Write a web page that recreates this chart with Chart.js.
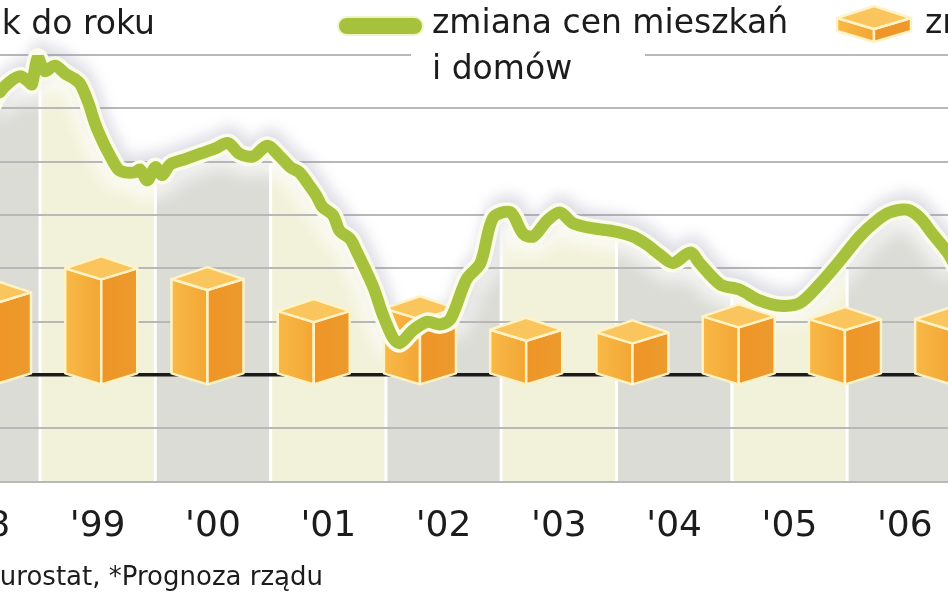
<!DOCTYPE html>
<html>
<head>
<meta charset="utf-8">
<script src="https://cdn.jsdelivr.net/npm/chart.js@4.4.1/dist/chart.umd.min.js"></script>
<style>
  html, body { margin: 0; padding: 0; background: #fff; overflow: hidden; }
  canvas { display: block; }
</style>
</head>
<body>
<canvas id="chart" width="948" height="593"></canvas>
<script>
// zmiana cen mieszkań i domów, r/r (%), odczyt co ok. miesiąc
const lineYears = [1998.57, 1998.65, 1998.74, 1998.83, 1998.90, 1998.93, 1998.98, 1999.04, 1999.13, 1999.22,
  1999.30, 1999.35, 1999.42, 1999.48, 1999.55, 1999.61, 1999.68, 1999.74, 1999.82, 1999.87,
  1999.93, 2000.00, 2000.06, 2000.13, 2000.26, 2000.39, 2000.52, 2000.63, 2000.73, 2000.85,
  2000.97, 2001.08, 2001.17, 2001.25, 2001.32, 2001.40, 2001.45, 2001.54, 2001.60, 2001.69,
  2001.75, 2001.89, 2001.97, 2002.06, 2002.12, 2002.24, 2002.36, 2002.47, 2002.56, 2002.70,
  2002.82, 2002.93, 2003.08, 2003.19, 2003.28, 2003.40, 2003.51, 2003.62, 2003.80, 2003.97,
  2004.14, 2004.26, 2004.38, 2004.49, 2004.64, 2004.72, 2004.90, 2005.07, 2005.24, 2005.42,
  2005.59, 2005.76, 2005.94, 2006.11, 2006.26, 2006.37, 2006.52, 2006.63, 2006.74, 2006.87, 2006.95];
const lineValues = [10.0, 10.6, 11.0, 11.2, 11.0, 10.9, 11.9, 11.4, 11.6, 11.3,
  11.1, 10.9, 10.2, 9.4, 8.7, 8.2, 7.7, 7.6, 7.6, 7.7,
  7.3, 7.8, 7.5, 7.9, 8.1, 8.3, 8.5, 8.7, 8.3, 8.2,
  8.6, 8.2, 7.8, 7.6, 7.2, 6.7, 6.3, 6.0, 5.4, 5.1,
  4.6, 3.3, 2.3, 1.4, 1.2, 1.7, 2.0, 1.9, 2.1, 3.6,
  4.2, 5.9, 6.1, 5.3, 5.2, 5.8, 6.1, 5.7, 5.5, 5.4,
  5.2, 4.9, 4.5, 4.2, 4.6, 4.2, 3.4, 3.2, 2.8, 2.6,
  2.7, 3.4, 4.3, 5.2, 5.8, 6.1, 6.2, 5.9, 5.3, 4.6, 4.0];

// druga seria (słupki), jedna wartość na rok
const barYears = ["'98", "'99", "'00", "'01", "'02", "'03", "'04", "'05", "'06", "'07"];
const barValues = [3.1, 4.0, 3.6, 2.4, 2.5, 1.7, 1.6, 2.2, 2.1, 2.1];

// podpisy osi
const firstYear = 1998;
const yearLabels = ["'98", "'99", "'00", "'01", "'02", "'03", "'04", "'05", "'06"];

const GREEN = '#a6c13c';
const INK = '#1c1c1c';
const LINE_INDEX = 1;

Chart.defaults.font.family = '"DejaVu Sans", sans-serif';

function boxPath(ctx, pts) {
  ctx.beginPath();
  ctx.moveTo(pts[0][0], pts[0][1]);
  for (let i = 1; i < pts.length; i++) ctx.lineTo(pts[i][0], pts[i][1]);
  ctx.closePath();
}

// pudełko 3D zamiast płaskiego słupka
function drawBox(ctx, cx, yTop, yBase, hw) {
  const back = 12, front = 11;
  ctx.save();
  ctx.lineJoin = 'round';
  ctx.strokeStyle = '#fff3c6';
  ctx.lineWidth = 2.5;
  const left = [[cx - hw, yTop], [cx, yTop + front], [cx, yBase + front], [cx - hw, yBase]];
  const right = [[cx, yTop + front], [cx + hw, yTop], [cx + hw, yBase], [cx, yBase + front]];
  const top = [[cx - hw, yTop], [cx, yTop - back], [cx + hw, yTop], [cx, yTop + front]];
  let g = ctx.createLinearGradient(cx - hw, 0, cx, 0);
  g.addColorStop(0, '#f8b947');
  g.addColorStop(1, '#f3a634');
  boxPath(ctx, left); ctx.fillStyle = g; ctx.fill(); ctx.stroke();
  g = ctx.createLinearGradient(cx, 0, cx + hw, 0);
  g.addColorStop(0, '#ef9526');
  g.addColorStop(1, '#ec9a2e');
  boxPath(ctx, right); ctx.fillStyle = g; ctx.fill(); ctx.stroke();
  boxPath(ctx, top); ctx.fillStyle = '#f9c55c'; ctx.fill(); ctx.stroke();
  ctx.restore();
}

const backdrop = {
  id: 'backdrop',
  beforeDraw(chart) {
    const { ctx, chartArea: a } = chart;
    const x = chart.scales.x;
    const meta = chart.getDatasetMeta(LINE_INDEX);
    const line = meta.dataset, pts = meta.data;
    ctx.save();
    ctx.beginPath();
    line.path(ctx);
    ctx.lineTo(pts[pts.length - 1].x, a.bottom);
    ctx.lineTo(pts[0].x, a.bottom);
    ctx.closePath();
    ctx.clip();
    for (let yr = Math.floor(x.min); yr < x.max; yr++) {
      const x0 = x.getPixelForValue(yr), x1 = x.getPixelForValue(yr + 1);
      ctx.fillStyle = yr % 2 ? '#f2f2da' : '#dcdcd7';
      ctx.fillRect(x0 + 1.5, a.top - 30, x1 - x0 - 3, a.bottom - a.top + 30);
    }
    // jasna poświata tuż pod linią
    ctx.filter = 'blur(9px)';
    ctx.strokeStyle = 'rgba(255,255,255,0.85)';
    ctx.lineWidth = 34;
    ctx.beginPath();
    line.path(ctx);
    ctx.stroke();
    ctx.restore();
  },
  beforeDatasetsDraw(chart) {
    const ctx = chart.ctx;
    ctx.save();
    // legenda na białym tle (przerywa górną linię siatki)
    ctx.fillStyle = '#fff';
    ctx.fillRect(411, 44, 234, 22);
    ctx.fillStyle = INK;
    ctx.textBaseline = 'alphabetic';
    ctx.font = '33px "DejaVu Sans"';
    ctx.textAlign = 'right';
    ctx.fillText('Zmiana rok do roku', 155, 34);
    ctx.textAlign = 'left';
    ctx.fillText('zmiana cen mieszkań', 432, 33);
    ctx.fillText('i domów', 432, 79);
    ctx.fillText('zmiana PKB', 925, 33);
    ctx.font = '26px "DejaVu Sans"';
    ctx.textAlign = 'right';
    ctx.fillText('Źródło: Eurostat, *Prognoza rządu', 323, 585);
    // znacznik linii
    ctx.beginPath();
    ctx.roundRect(338, 17, 85, 18, 9);
    ctx.fillStyle = GREEN;
    ctx.fill();
    ctx.strokeStyle = '#eef3c8';
    ctx.lineWidth = 2;
    ctx.stroke();
    ctx.restore();
    // znacznik słupków
    drawBox(ctx, 874, 18, 31, 37);

    // szara mgiełka nad linią (pod słupkami)
    const line = chart.getDatasetMeta(LINE_INDEX).dataset;
    ctx.save();
    ctx.lineJoin = 'round';
    ctx.lineCap = 'round';
    ctx.filter = 'blur(7px)';
    ctx.strokeStyle = 'rgba(140,140,170,0.3)';
    ctx.lineWidth = 18;
    ctx.translate(3, -8);
    ctx.beginPath();
    line.path(ctx);
    ctx.stroke();
    ctx.restore();
  },
  beforeDatasetDraw(chart, args) {
    if (args.index !== LINE_INDEX) return;
    const ctx = chart.ctx, line = args.meta.dataset;
    ctx.save();
    ctx.lineJoin = 'round';
    ctx.lineCap = 'round';
    ctx.strokeStyle = '#fbfbea';
    ctx.lineWidth = 19;
    ctx.beginPath();
    line.path(ctx);
    ctx.stroke();
    ctx.restore();
  },
  afterDatasetDraw(chart, args) {
    if (args.index !== 0) return;
    const ctx = chart.ctx;
    args.meta.data.forEach(bar => {
      drawBox(ctx, bar.x, bar.y, bar.base, bar.width / 2);
    });
  }
};

new Chart(document.getElementById('chart'), {
  type: 'bar',
  data: {
    datasets: [
      {
        type: 'bar',
        label: 'zmiana PKB',
        xAxisID: 'xb',
        data: barValues.map((v, i) => ({ x: i, y: v })),
        grouped: false,
        maxBarThickness: 72,
        backgroundColor: 'rgba(0,0,0,0)',
        borderWidth: 0,
        order: 3
      },
      {
        type: 'line',
        label: 'zmiana cen mieszkań i domów',
        xAxisID: 'x',
        data: lineYears.map((t, i) => ({ x: t, y: lineValues[i] })),
        borderColor: GREEN,
        borderWidth: 12,
        borderJoinStyle: 'round',
        borderCapStyle: 'round',
        pointRadius: 0,
        tension: 0.3,
        fill: false,
        order: 1
      }
    ]
  },
  options: {
    responsive: false,
    animation: false,
    layout: { padding: { top: 55, bottom: 22, left: 0, right: 0 }, autoPadding: false },
    scales: {
      x: {
        type: 'linear',
        position: 'bottom',
        offset: false,
        min: 1998.653,
        max: 2006.875,
        grid: { display: false, drawTicks: false, offset: false },
        border: { display: false },
        afterBuildTicks: s => { s.ticks = yearLabels.map((_, i) => ({ value: firstYear + i + 0.5 })); },
        afterFit: s => { s.paddingLeft = 0; s.paddingRight = 0; },
        ticks: {
          autoSkip: false,
          maxRotation: 0,
          padding: 23,
          color: INK,
          font: { size: 36 },
          callback: (v, i) => yearLabels[i]
        }
      },
      xb: {
        type: 'linear',
        axis: 'x',
        display: false,
        offset: false,
        grid: { offset: false },
        min: 0.047,
        max: 8.97
      },
      y: {
        min: -4,
        max: 12,
        ticks: { stepSize: 2, display: false },
        border: { display: false },
        grid: {
          drawTicks: false,
          color: c => c.tick.value === 0 ? '#1b1b1b' : '#b8b8b8',
          lineWidth: c => c.tick.value === 0 ? 3.5 : 2
        }
      }
    },
    plugins: {
      legend: { display: false },
      tooltip: { enabled: false }
    }
  },
  plugins: [backdrop]
});
</script>
</body>
</html>
